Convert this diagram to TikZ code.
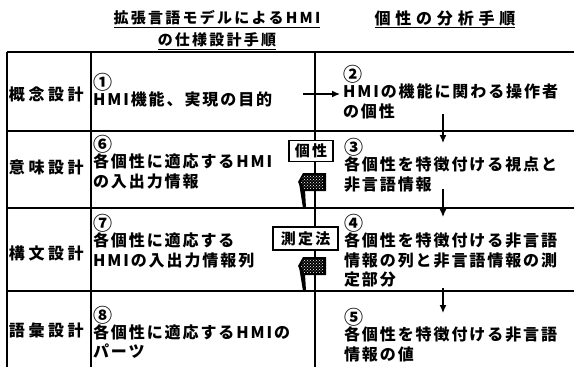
\documentclass[tikz,border=0pt]{standalone}
\usepackage{fontspec}
\newfontfamily\jp{Noto Sans CJK JP}[LetterSpace=12]
\newfontfamily\jph{Noto Sans CJK JP}[LetterSpace=15]
\newcommand\cn[1]{{\fontsize{19}{19.5}\selectfont #1}}
\usetikzlibrary{arrows.meta,patterns}

\begin{document}
\begin{tikzpicture}
[x=1pt,y=-1pt,%
  every node/.style={inner sep=0pt,outer sep=0pt},%
  cell/.style={anchor=north west,align=left,font=\jp\bfseries\fontsize{16}{19.5}\selectfont},%
  lbl/.style={anchor=west,font=\jp\bfseries\fontsize{16}{18}\selectfont\addfontfeature{LetterSpace=22}},%
  head/.style={align=center,font=\jph\bfseries\fontsize{15}{22}\selectfont},%
  tag/.style={draw,line width=1.2pt,fill=white,inner sep=3pt,font=\jph\bfseries\fontsize{15}{18}\selectfont},%
  rule/.style={line width=1.8pt},%
  arr/.style={-{Latex[length=8pt,width=7pt]},line width=1.2pt}]
\useasboundingbox (0,0) rectangle (574,367);
% headings
\node[head] (h1) at (217,30) {\underline{拡張言語モデルによるHMI}\\\underline{の仕様設計手順}};
\node[head,font=\jp\bfseries\fontsize{16}{22}\selectfont\addfontfeature{LetterSpace=30}] (h2) at (445,19) {\underline{個性の分析手順}};
% table
\foreach \y in {52,131,208,291}
  \draw[rule] (7,\y) -- (574,\y);
\foreach \x in {7,91,315}
  \draw[rule] (\x,52) -- (\x,367);
% row labels
\node[lbl] (r1) at (9,94) {概念設計};
\node[lbl] (r2) at (9,167) {意味設計};
\node[lbl] (r3) at (9,253) {構文設計};
\node[lbl] (r4) at (9,330) {語彙設計};
% design side
\node[cell] (c1) at (93,73.5) {\cn{①}\\[-3.5pt]HMI機能、実現の目的};
\node[cell] (c6) at (93,135.5) {\cn{⑥}\\[-3.5pt]各個性に適応するHMI\\の入出力情報};
\node[cell] (c7) at (93,214.5) {\cn{⑦}\\[-3.5pt]各個性に適応する\\HMIの入出力情報列};
\node[cell] (c8) at (93,306) {\cn{⑧}\\[-3.5pt]各個性に適応するHMIの\\パーツ};
% analysis side
\node[cell] (c2) at (343,65.5) {\cn{②}\\[-3.5pt]HMIの機能に関わる操作者\\の個性};
\node[cell] (c3) at (344,138.5) {\cn{③}\\[-3.5pt]各個性を特徴付ける視点と\\非言語情報};
\node[cell] (c4) at (344,214.5) {\cn{④}\\[-3.5pt]各個性を特徴付ける非言語\\情報の列と非言語情報の測\\定部分};
\node[cell] (c5) at (344,308.5) {\cn{⑤}\\[-3.5pt]各個性を特徴付ける非言語\\情報の値};
% flow
\coordinate (p1) at (303,94);
\coordinate (q1) at (340,94);
\draw[arr] (p1) -- (q1);
\foreach \a/\b in {114/143,189/217,288/313}
  \draw[arr] (443,\a) -- (443,\b);
% feedback flags
\foreach \t/\b in {173/208,257/291}{
  \fill[black] (299,\t+10) -- (303,\b) -- (306,\b) -- (305,\t+17) -- cycle;
  \fill[black] (326,\t) -- (303,\t) -- (298,\t+9) -- (303,\t+18) -- (326,\t+18) -- cycle;
  \fill[pattern=crosshatch dots,pattern color=white] (323,\t+2) -- (304,\t+2) -- (301,\t+9) -- (304,\t+16) -- (323,\t+16) -- cycle;
}
\node[tag,minimum width=44pt,minimum height=18pt] (k1) at (311,151) {個性};
\node[tag,minimum width=65pt,minimum height=23pt] (k2) at (305.5,238.5) {測定法};
\end{tikzpicture}
\end{document}
